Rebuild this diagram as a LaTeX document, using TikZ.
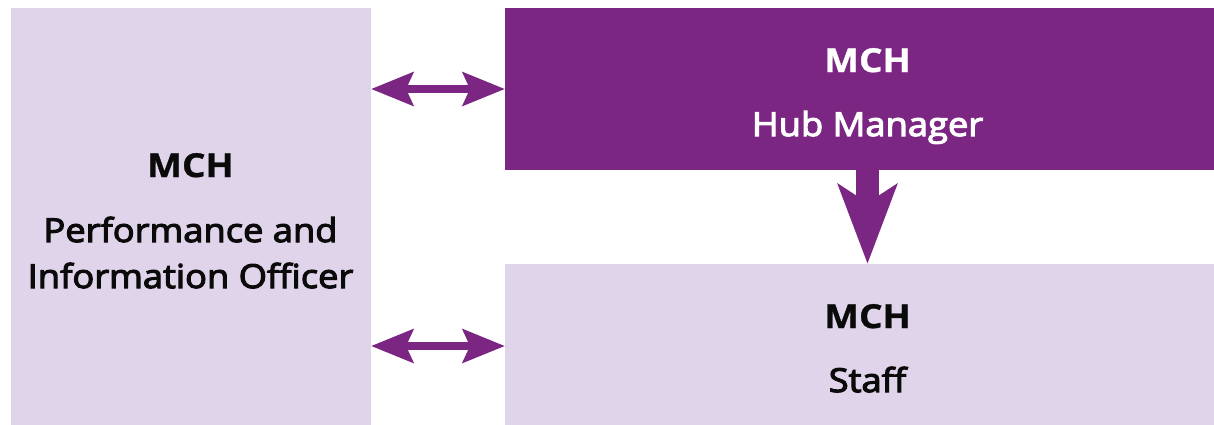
\documentclass[tikz,border=0pt]{standalone}
\usepackage{fontspec}
\setmainfont{Open Sans}[FakeStretch=1.1]
\newfontfamily\medfont{Open Sans}[FakeBold=3.4,FakeStretch=1.1]
\newfontfamily\hdfont{Open Sans Bold}[FakeBold=1,FakeStretch=1.12]
\usetikzlibrary{arrows.meta}
\definecolor{hub}{RGB}{123,38,130}
\definecolor{lav}{RGB}{224,212,234}
\definecolor{ink}{RGB}{10,10,10}
\begin{document}
\begin{tikzpicture}[x=1pt,y=-1pt,
  box/.style={draw=none, inner sep=0pt, outer sep=0pt, anchor=north west},
  txt/.style={anchor=base, inner sep=0pt, outer sep=0pt, font=\medfont\fontsize{33}{40}\selectfont},
  hd/.style={txt, font=\hdfont\fontsize{33}{40}\selectfont},
  harrow/.style={draw=hub, line width=8.5pt,
    {Stealth[length=42pt,width=33pt,inset=7pt]}-{Stealth[length=42pt,width=33pt,inset=7pt]}},
  varrow/.style={draw=hub, line width=23pt,
    -{Stealth[length=79pt,width=58pt,inset=18pt]}}]
\path[use as bounding box, clip] (0,0) rectangle (1214,424);
\node[box, fill=lav, minimum width=360pt, minimum height=422pt] (L) at (11,8) {};
\node[box, fill=hub, minimum width=725pt, minimum height=162pt] (T) at (505,8) {};
\node[box, fill=lav, minimum width=725pt, minimum height=164pt] (B) at (505,264) {};
\draw[harrow] (L.east |- T.west) -- (T.west);
\draw[harrow] (L.east |- B.west) -- (B.west);
\draw[varrow] (T.south) -- (B.north);
\node[hd, text=white] (t1) at (867.5,72) {MCH};
\node[txt, text=white] (t2) at (867.5,136) {Hub Manager};
\node[hd, text=ink] (l1) at (190.5,177) {MCH};
\node[txt, text=ink] (l2) at (190.5,242) {Performance and};
\node[txt, text=ink] (l3) at (190.5,288) {Information Officer};
\node[hd, text=ink] (b1) at (867.5,328) {MCH};
\node[txt, text=ink] (b2) at (867.5,392) {Staff};
\end{tikzpicture}
\end{document}
